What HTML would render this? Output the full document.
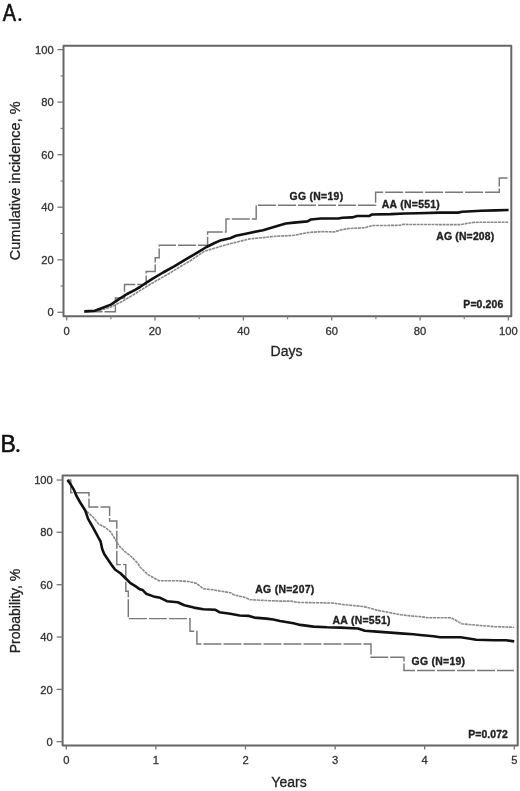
<!DOCTYPE html><html><head><meta charset="utf-8"><style>
html,body{margin:0;padding:0;background:#fff;width:520px;height:791px;overflow:hidden}
svg text{font-family:"Liberation Sans", sans-serif;}
.tl{font-size:11.2px;fill:#333;stroke:#333;stroke-width:0.3px}
.lab{font-size:14px;fill:#222;stroke:#222;stroke-width:0.3px}
.cl{font-size:10.4px;font-weight:bold;fill:#222;letter-spacing:0.3px;stroke:#222;stroke-width:0.35px}
.big{font-size:23px;fill:#111;stroke:#111;stroke-width:0.6px}
</style></head><body>
<svg width="520" height="791" viewBox="0 0 520 791" style="display:block;filter:blur(0.35px)">
<text x="1.8" y="20.8" class="big" transform="translate(9.25,0) scale(0.863,1) translate(-9.25,0)">A</text><circle cx="19.85" cy="19.5" r="1.5" fill="#111"/>
<text x="0.6" y="452" class="big">B</text><circle cx="17.9" cy="450.6" r="1.6" fill="#111"/>
<rect x="63.5" y="45.8" width="447.8" height="270.5" fill="none" stroke="#666" stroke-width="2" stroke-linejoin="round"/>
<line x1="57.5" y1="312.3" x2="63.5" y2="312.3" stroke="#777" stroke-width="1.3"/>
<text x="53.7" y="316.4" text-anchor="end" class="tl">0</text>
<line x1="57.5" y1="259.8" x2="63.5" y2="259.8" stroke="#777" stroke-width="1.3"/>
<text x="53.7" y="263.9" text-anchor="end" class="tl">20</text>
<line x1="57.5" y1="207.2" x2="63.5" y2="207.2" stroke="#777" stroke-width="1.3"/>
<text x="53.7" y="211.3" text-anchor="end" class="tl">40</text>
<line x1="57.5" y1="154.7" x2="63.5" y2="154.7" stroke="#777" stroke-width="1.3"/>
<text x="53.7" y="158.8" text-anchor="end" class="tl">60</text>
<line x1="57.5" y1="102.1" x2="63.5" y2="102.1" stroke="#777" stroke-width="1.3"/>
<text x="53.7" y="106.2" text-anchor="end" class="tl">80</text>
<line x1="57.5" y1="49.6" x2="63.5" y2="49.6" stroke="#777" stroke-width="1.3"/>
<text x="53.7" y="53.7" text-anchor="end" class="tl">100</text>
<line x1="60.5" y1="286.0" x2="63.5" y2="286.0" stroke="#777" stroke-width="1.1"/>
<line x1="60.5" y1="233.5" x2="63.5" y2="233.5" stroke="#777" stroke-width="1.1"/>
<line x1="60.5" y1="181.0" x2="63.5" y2="181.0" stroke="#777" stroke-width="1.1"/>
<line x1="60.5" y1="128.4" x2="63.5" y2="128.4" stroke="#777" stroke-width="1.1"/>
<line x1="60.5" y1="75.9" x2="63.5" y2="75.9" stroke="#777" stroke-width="1.1"/>
<line x1="66.7" y1="316.3" x2="66.7" y2="320.5" stroke="#777" stroke-width="1.3"/>
<text x="66.7" y="334.6" text-anchor="middle" class="tl">0</text>
<line x1="155.0" y1="316.3" x2="155.0" y2="320.5" stroke="#777" stroke-width="1.3"/>
<text x="155.0" y="334.6" text-anchor="middle" class="tl">20</text>
<line x1="243.4" y1="316.3" x2="243.4" y2="320.5" stroke="#777" stroke-width="1.3"/>
<text x="243.4" y="334.6" text-anchor="middle" class="tl">40</text>
<line x1="331.7" y1="316.3" x2="331.7" y2="320.5" stroke="#777" stroke-width="1.3"/>
<text x="331.7" y="334.6" text-anchor="middle" class="tl">60</text>
<line x1="420.1" y1="316.3" x2="420.1" y2="320.5" stroke="#777" stroke-width="1.3"/>
<text x="420.1" y="334.6" text-anchor="middle" class="tl">80</text>
<line x1="508.4" y1="316.3" x2="508.4" y2="320.5" stroke="#777" stroke-width="1.3"/>
<text x="508.4" y="334.6" text-anchor="middle" class="tl">100</text>
<line x1="110.9" y1="316.3" x2="110.9" y2="319.3" stroke="#777" stroke-width="1.1"/>
<line x1="199.2" y1="316.3" x2="199.2" y2="319.3" stroke="#777" stroke-width="1.1"/>
<line x1="287.6" y1="316.3" x2="287.6" y2="319.3" stroke="#777" stroke-width="1.1"/>
<line x1="375.9" y1="316.3" x2="375.9" y2="319.3" stroke="#777" stroke-width="1.1"/>
<line x1="464.2" y1="316.3" x2="464.2" y2="319.3" stroke="#777" stroke-width="1.1"/>
<text x="286.5" y="356.3" text-anchor="middle" class="lab">Days</text>
<text transform="translate(20.3,180.8) rotate(-90)" text-anchor="middle" class="lab" style="font-size:14.5px">Cumulative incidence, %</text>
<polyline points="84.5,311.7 115.4,311.7 115.4,298.0 124.5,298.0 124.5,284.4 146.2,284.4 146.2,271.5 155.2,271.5 155.2,257.7 159.2,257.7 159.2,245.2 207.6,245.2 207.6,232.0 226.0,232.0 226.0,219.0 256.2,219.0 256.2,205.2 375.6,205.2 375.6,192.3 499.3,192.3 499.3,178.0 507.5,178.0 507.5,178.0" fill="none" stroke="#787878" stroke-width="1.45" stroke-dasharray="18,2"/>
<polyline points="84.3,311.7 96.0,311.3 110.0,307.5 122.0,301.5 133.0,295.0 151.5,283.5 168.8,273.7 179.2,267.3 190.0,261.0 203.8,251.5 216.2,247.7 230.0,243.7 236.0,242.3 249.5,238.9 263.0,237.6 276.4,236.2 289.8,235.6 294.0,235.3 307.5,232.6 320.9,231.6 334.4,231.9 341.0,229.9 347.8,228.6 364.0,227.8 372.0,225.6 400.3,225.3 403.0,224.4 440.0,224.6 460.8,224.6 467.7,223.3 474.6,222.2 508.0,222.2" fill="none" stroke="#888" stroke-width="1.6" stroke-dasharray="3,0.7"/>
<polyline points="84.3,311.4 94.8,310.8 101.5,308.2 110.9,304.6 119.0,299.2 127.1,294.0 135.1,289.8 140.0,287.0 146.9,282.3 151.5,279.4 163.1,272.5 174.6,266.2 186.2,259.2 197.7,252.3 206.5,247.0 214.6,243.0 220.0,240.6 230.0,238.2 236.0,235.8 249.5,232.9 263.0,230.2 276.4,226.2 285.8,223.5 294.0,222.6 307.5,221.4 310.8,219.5 320.9,218.5 338.4,218.5 342.5,217.8 351.9,217.4 357.3,216.0 369.4,215.9 372.0,214.5 390.9,214.1 404.4,213.5 417.8,213.2 440.0,212.6 458.0,212.6 462.2,211.8 481.5,210.8 495.4,210.4 508.6,210.0" fill="none" stroke="#111" stroke-width="2.6" stroke-linejoin="round"/>
<text x="289.6" y="199.8" class="cl">GG (N=19)</text>
<text x="381.8" y="208.3" class="cl">AA (N=551)</text>
<text x="436.2" y="239.8" class="cl" style="letter-spacing:0.2px">AG (N=208)</text>
<text x="463.3" y="308.2" class="cl" style="letter-spacing:0.15px">P=0.206</text>
<rect x="62.6" y="475.4" width="455.1" height="270.0" fill="none" stroke="#666" stroke-width="2" stroke-linejoin="round"/>
<line x1="56.6" y1="741.7" x2="62.6" y2="741.7" stroke="#777" stroke-width="1.3"/>
<text x="52.8" y="745.8" text-anchor="end" class="tl">0</text>
<line x1="56.6" y1="689.4" x2="62.6" y2="689.4" stroke="#777" stroke-width="1.3"/>
<text x="52.8" y="693.5" text-anchor="end" class="tl">20</text>
<line x1="56.6" y1="637.0" x2="62.6" y2="637.0" stroke="#777" stroke-width="1.3"/>
<text x="52.8" y="641.1" text-anchor="end" class="tl">40</text>
<line x1="56.6" y1="584.7" x2="62.6" y2="584.7" stroke="#777" stroke-width="1.3"/>
<text x="52.8" y="588.8" text-anchor="end" class="tl">60</text>
<line x1="56.6" y1="532.3" x2="62.6" y2="532.3" stroke="#777" stroke-width="1.3"/>
<text x="52.8" y="536.4" text-anchor="end" class="tl">80</text>
<line x1="56.6" y1="480.0" x2="62.6" y2="480.0" stroke="#777" stroke-width="1.3"/>
<text x="52.8" y="484.1" text-anchor="end" class="tl">100</text>
<line x1="66.3" y1="745.4" x2="66.3" y2="749.6" stroke="#777" stroke-width="1.3"/>
<text x="66.3" y="763.7" text-anchor="middle" class="tl">0</text>
<line x1="155.9" y1="745.4" x2="155.9" y2="749.6" stroke="#777" stroke-width="1.3"/>
<text x="155.9" y="763.7" text-anchor="middle" class="tl">1</text>
<line x1="245.5" y1="745.4" x2="245.5" y2="749.6" stroke="#777" stroke-width="1.3"/>
<text x="245.5" y="763.7" text-anchor="middle" class="tl">2</text>
<line x1="335.1" y1="745.4" x2="335.1" y2="749.6" stroke="#777" stroke-width="1.3"/>
<text x="335.1" y="763.7" text-anchor="middle" class="tl">3</text>
<line x1="424.7" y1="745.4" x2="424.7" y2="749.6" stroke="#777" stroke-width="1.3"/>
<text x="424.7" y="763.7" text-anchor="middle" class="tl">4</text>
<line x1="514.3" y1="745.4" x2="514.3" y2="749.6" stroke="#777" stroke-width="1.3"/>
<text x="514.3" y="763.7" text-anchor="middle" class="tl">5</text>
<text x="289" y="786.9" text-anchor="middle" class="lab">Years</text>
<text transform="translate(20.3,611) rotate(-90)" text-anchor="middle" class="lab">Probability, %</text>
<polyline points="67.5,480.0 70.8,480.0 70.8,492.8 89.0,492.8 89.0,507.0 109.6,507.0 109.6,521.0 116.8,521.0 116.8,564.6 125.8,564.6 125.8,591.2 128.3,591.2 128.3,618.6 190.0,618.6 190.0,631.2 196.9,631.2 196.9,644.0 371.0,644.0 371.0,657.3 404.0,657.3 404.0,670.5 514.0,670.5" fill="none" stroke="#787878" stroke-width="1.45" stroke-dasharray="18,2"/>
<polyline points="67.5,480.0 71.1,485.1 74.1,490.2 76.6,496.2 80.2,502.5 84.5,509.0 86.7,511.4 93.5,517.5 98.8,524.2 105.6,527.6 111.0,532.3 115.0,539.0 119.0,545.8 124.4,551.1 131.1,556.5 137.9,563.3 140.0,567.0 147.7,574.4 155.4,578.8 159.2,580.8 178.5,580.8 188.1,581.5 195.8,583.1 203.5,588.8 213.1,589.8 220.8,591.2 230.4,592.7 234.2,595.0 243.6,597.0 250.4,599.7 263.8,600.4 280.0,601.1 290.8,601.1 297.5,602.4 320.4,602.8 333.8,603.1 341.9,604.4 350.0,605.2 363.5,606.5 376.9,610.1 390.4,612.8 401.1,614.8 410.6,615.9 420.0,616.6 428.1,617.8 451.0,617.8 453.6,619.1 461.7,623.8 476.5,625.2 494.6,626.7 514.2,627.3" fill="none" stroke="#888" stroke-width="1.6" stroke-dasharray="3,0.7"/>
<polyline points="67.5,480.0 71.1,485.1 74.1,490.2 76.6,496.2 80.2,502.5 85.4,510.8 88.1,518.8 93.5,528.3 98.1,537.0 100.6,541.5 102.2,549.0 104.2,554.0 106.9,557.9 112.3,565.9 115.0,569.5 120.4,573.2 125.8,578.5 130.4,583.1 135.4,586.2 140.0,589.3 142.7,590.1 146.1,593.7 153.5,596.4 160.2,597.8 166.9,601.2 177.7,602.2 184.4,605.2 193.8,607.6 203.3,609.2 215.4,609.8 219.4,612.2 230.2,613.8 239.6,615.5 249.0,615.9 254.4,617.6 266.5,618.6 273.3,619.5 280.0,621.0 293.5,623.3 300.2,624.9 313.6,626.6 327.1,627.3 340.6,627.6 358.1,628.5 364.8,630.7 376.9,631.6 390.4,632.6 403.8,633.6 413.3,634.3 420.0,635.0 433.5,636.2 440.2,637.3 460.4,637.3 467.1,638.2 476.3,639.8 494.6,640.2 506.2,640.2 514.2,641.4" fill="none" stroke="#111" stroke-width="2.6" stroke-linejoin="round"/>
<text x="255.3" y="592.6" class="cl">AG (N=207)</text>
<text x="332.5" y="624.4" class="cl">AA (N=551)</text>
<text x="411.5" y="664.5" class="cl">GG (N=19)</text>
<text x="468.2" y="738.2" class="cl" style="letter-spacing:0.1px">P=0.072</text>
</svg></body></html>
